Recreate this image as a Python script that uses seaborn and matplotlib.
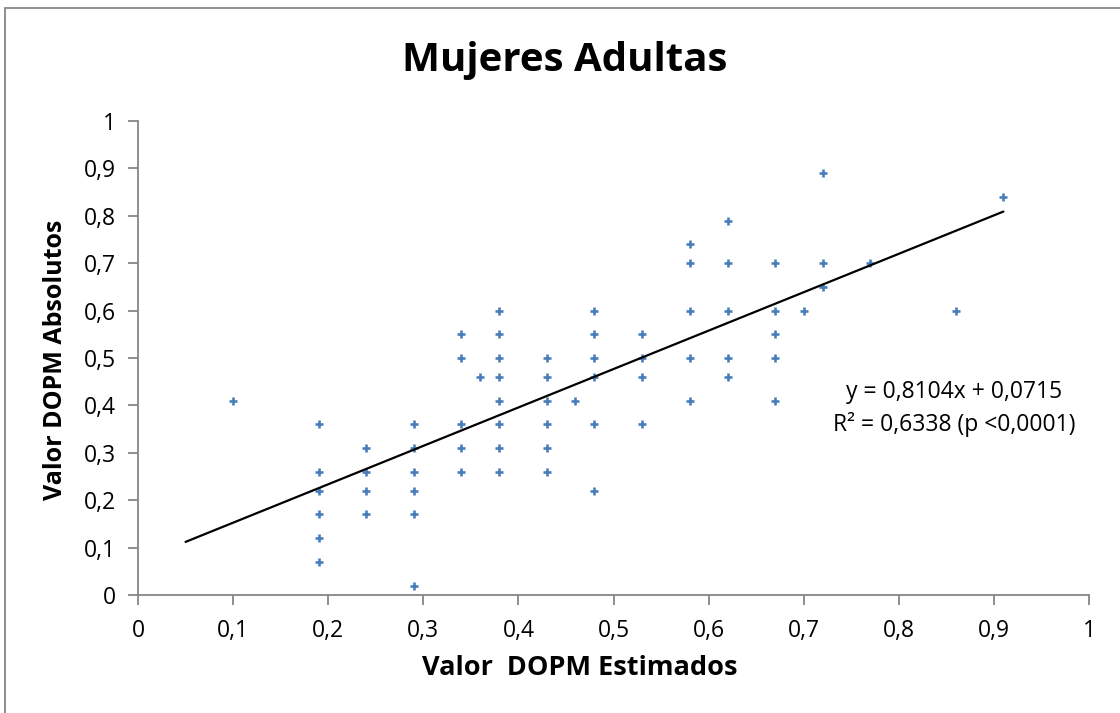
import numpy as np
import pandas as pd
import seaborn as sns
import matplotlib
matplotlib.use("Agg")
import matplotlib.pyplot as plt
from matplotlib.ticker import FuncFormatter
from matplotlib.patches import Rectangle

# ---- data ----
x_estimados = (
    [0.10]
    + [0.19] * 6
    + [0.24] * 4
    + [0.29] * 6
    + [0.34] * 5
    + [0.36]
    + [0.38] * 8
    + [0.43] * 6
    + [0.46]
    + [0.48] * 6
    + [0.53] * 4
    + [0.58] * 5
    + [0.62] * 5
    + [0.67] * 5
    + [0.70]
    + [0.72] * 3
    + [0.77]
    + [0.86]
    + [0.91]
)
y_absolutos = (
    [0.41]
    + [0.36, 0.26, 0.22, 0.17, 0.12, 0.07]
    + [0.31, 0.26, 0.22, 0.17]
    + [0.36, 0.31, 0.26, 0.22, 0.17, 0.02]
    + [0.55, 0.50, 0.36, 0.31, 0.26]
    + [0.46]
    + [0.60, 0.55, 0.50, 0.46, 0.41, 0.36, 0.31, 0.26]
    + [0.50, 0.46, 0.41, 0.36, 0.31, 0.26]
    + [0.41]
    + [0.60, 0.55, 0.50, 0.46, 0.36, 0.22]
    + [0.55, 0.50, 0.46, 0.36]
    + [0.74, 0.70, 0.60, 0.50, 0.41]
    + [0.79, 0.70, 0.60, 0.50, 0.46]
    + [0.70, 0.60, 0.55, 0.50, 0.41]
    + [0.60]
    + [0.89, 0.70, 0.65]
    + [0.70]
    + [0.60]
    + [0.84]
)
trend_slope = 0.8104
trend_intercept = 0.0715
trend_x = [0.05, 0.91]
tick_values = [0, 0.1, 0.2, 0.3, 0.4, 0.5, 0.6, 0.7, 0.8, 0.9, 1.0]

title = "Mujeres Adultas"
xlabel = "Valor  DOPM Estimados"
ylabel = "Valor DOPM Absolutos"
equation = "y = 0,8104x + 0,0715\nR² = 0,6338 (p <0,0001)"

df = pd.DataFrame({"x": x_estimados, "y": y_absolutos})
trend_df = pd.DataFrame({"x": trend_x,
                         "y": [trend_slope * v + trend_intercept for v in trend_x]})

# ---- style ----
sns.set_theme(style="white")
plt.rcParams["font.family"] = ["Open Sans", "DejaVu Sans"]
plt.rcParams["text.color"] = "black"
plt.rcParams["axes.labelcolor"] = "black"

fig = plt.figure(figsize=(11.2, 7.13), dpi=100)
ax = fig.add_axes([138 / 1120, 1 - 595 / 713, (1089 - 138) / 1120, (595 - 121) / 713])

sns.scatterplot(data=df, x="x", y="y", marker="+", s=28, linewidth=1.9,
                color="#4a7ebb", ax=ax, zorder=3)
sns.lineplot(data=trend_df, x="x", y="y", color="black", linewidth=1.6, ax=ax,
             zorder=4)

ax.set_xlim(0, 1)
ax.set_ylim(0, 1)
ax.set_xticks(tick_values)
ax.set_yticks(tick_values)
fmt = FuncFormatter(lambda v, _: f"{v:g}".replace(".", ","))
ax.xaxis.set_major_formatter(fmt)
ax.yaxis.set_major_formatter(fmt)

gray = "#868686"
for side in ["top", "right"]:
    ax.spines[side].set_visible(False)
for side in ["left", "bottom"]:
    ax.spines[side].set_color(gray)
    ax.spines[side].set_linewidth(1.3)
ax.tick_params(axis="both", which="major", direction="out", length=7, width=1.3,
               color=gray, labelsize=16.5, labelcolor="black",
               bottom=True, left=True)
ax.tick_params(axis="x", pad=10)
ax.tick_params(axis="y", pad=9)

ax.set_xlabel(xlabel, fontsize=19.5, fontweight="bold")
ax.set_ylabel(ylabel, fontsize=18, fontweight="bold")
ax.xaxis.set_label_coords((580 - 138) / 951, (595 - 668) / 474)
ax.xaxis.label.set_va("center")
ax.yaxis.set_label_coords((56 - 138) / 951, (595 - 360) / 474)
ax.yaxis.label.set_va("center")

fig.text(565 / 1120, 1 - 60 / 713, title, ha="center", va="center",
         fontsize=29, fontweight="bold", color="black")

ax.text(0.858, 0.453, equation, ha="center", va="top", fontsize=16.5,
        linespacing=1.4, transform=ax.transData, color="black")

# chart-area border (left/top visible)
fig.patches.append(Rectangle((5 / 1120, -0.1), 1.2, 1 - 8 / 713 + 0.1,
                             transform=fig.transFigure, fill=False,
                             edgecolor=gray, linewidth=1.3))

fig.savefig("out.png", dpi=100)
